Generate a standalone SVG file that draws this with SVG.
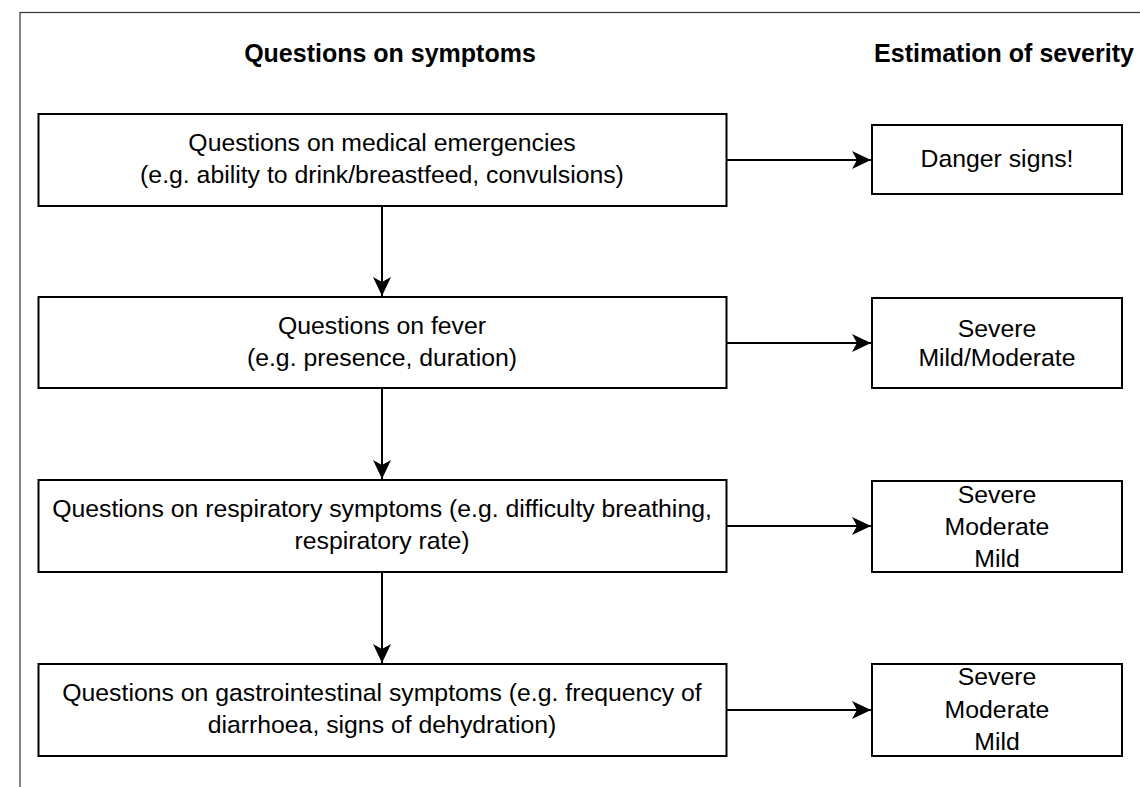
<svg xmlns="http://www.w3.org/2000/svg" width="1140" height="787" viewBox="0 0 1140 787">
<defs>
<marker id="ah" viewBox="0 0 20 20" refX="19" refY="10" markerWidth="20" markerHeight="20" markerUnits="userSpaceOnUse" orient="auto">
<path d="M0,1 L19,10 L0,19 L5,10 Z" fill="#000"/>
</marker>
</defs>
<style>
.box{fill:#fff;stroke:#000;stroke-width:2}
.t{font-family:"Liberation Sans",Arial,Helvetica,sans-serif;font-size:24.8px;fill:#000;text-anchor:middle}
.h{font-family:"Liberation Sans",Arial,Helvetica,sans-serif;font-size:25px;font-weight:bold;fill:#000;text-anchor:middle}
.c{stroke:#000;stroke-width:2;fill:none;marker-end:url(#ah)}
</style>
<rect width="1140" height="787" fill="#fff"/>
<rect x="20" y="12.5" width="1140" height="800" fill="none" stroke="#333" stroke-width="1.2"/>
<g id="headers">
<text class="h" x="390" y="62">Questions on symptoms</text>
<text class="h" x="1004" y="62">Estimation of severity</text>
</g>
<g id="q1"><rect class="box" x="38.5" y="114" width="688" height="92"/>
<text class="t" x="382" y="151">Questions on medical emergencies</text>
<text class="t" x="382" y="183">(e.g. ability to drink/breastfeed, convulsions)</text></g>
<g id="q2"><rect class="box" x="38.5" y="297" width="688" height="91"/>
<text class="t" x="382" y="334">Questions on fever</text>
<text class="t" x="382" y="366">(e.g. presence, duration)</text></g>
<g id="q3"><rect class="box" x="38.5" y="480" width="688" height="92"/>
<text class="t" x="382" y="517">Questions on respiratory symptoms (e.g. difficulty breathing,</text>
<text class="t" x="382" y="549">respiratory rate)</text></g>
<g id="q4"><rect class="box" x="38.5" y="664" width="688" height="92"/>
<text class="t" x="382" y="701">Questions on gastrointestinal symptoms (e.g. frequency of</text>
<text class="t" x="382" y="733">diarrhoea, signs of dehydration)</text></g>
<g id="s1"><rect class="box" x="872" y="125" width="250" height="69"/>
<text class="t" x="997" y="167">Danger signs!</text></g>
<g id="s2"><rect class="box" x="872" y="298" width="250" height="90"/>
<text class="t" x="997" y="337">Severe</text>
<text class="t" x="997" y="366">Mild/Moderate</text></g>
<g id="s3"><rect class="box" x="872" y="481" width="250" height="91"/>
<text class="t" x="997" y="503">Severe</text>
<text class="t" x="997" y="535">Moderate</text>
<text class="t" x="997" y="567">Mild</text></g>
<g id="s4"><rect class="box" x="872" y="664" width="250" height="92"/>
<text class="t" x="997" y="685">Severe</text>
<text class="t" x="997" y="718">Moderate</text>
<text class="t" x="997" y="750">Mild</text></g>
<g id="connectors">
<line class="c" x1="726.5" y1="160" x2="871" y2="160"/>
<line class="c" x1="726.5" y1="343" x2="871" y2="343"/>
<line class="c" x1="726.5" y1="526" x2="871" y2="526"/>
<line class="c" x1="726.5" y1="710" x2="871" y2="710"/>
<line class="c" x1="382" y1="206" x2="382" y2="296"/>
<line class="c" x1="382" y1="388" x2="382" y2="479"/>
<line class="c" x1="382" y1="572" x2="382" y2="663"/>
</g>
</svg>
